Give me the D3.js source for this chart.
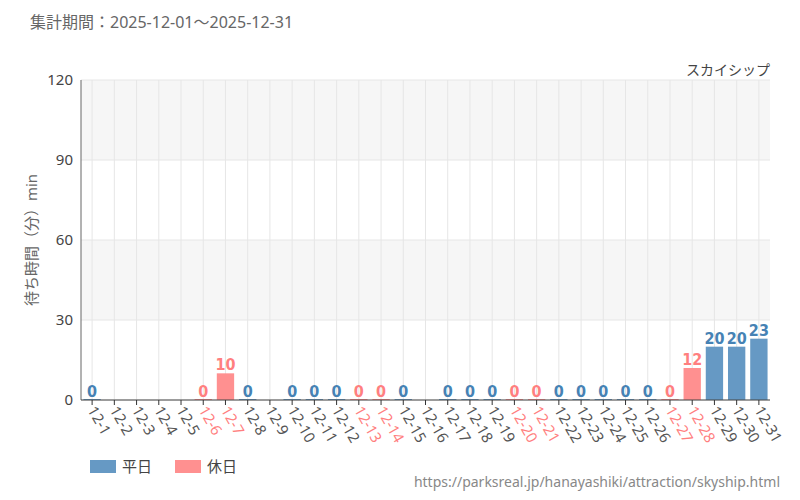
<!DOCTYPE html>
<html><head><meta charset="utf-8">
<script src="https://cdn.jsdelivr.net/npm/d3@7"></script>
<style>body{margin:0;background:#fff}svg{font-family:"Noto Sans","Noto Sans CJK JP",sans-serif}</style>
</head><body><svg id="c" width="800" height="500"></svg>
<script>
const days = d3.range(1, 32).map(d => `12-${d}`)
const values = [0, null, null, null, null, 0, 10, 0, null, 0, 0, 0, 0, 0, 0, null, 0, 0, 0, 0, 0, 0, 0, 0, 0, 0, 0, 12, 20, 20, 23]
const holidays = ['12-6', '12-7', '12-13', '12-14', '12-20', '12-21', '12-27', '12-28']
const yTicks = [0, 30, 60, 90, 120]

const blue = '#6699c4', red = '#ff9090', blueText = '#4682b4', redText = '#ff7f7f'
const svg = d3.select('#c')
const m = { l: 81, r: 770, t: 80, b: 400 }

const x = d3.scaleBand().domain(days).range([m.l, m.r]).paddingInner(0.22).paddingOuter(0.11)
const y = d3.scaleLinear().domain([0, 120]).range([m.b, m.t])

// bands
;[[30, 60], [90, 120]].forEach(([a, b]) => {
  svg.append('rect').attr('x', m.l).attr('width', m.r - m.l)
    .attr('y', y(b)).attr('height', y(a) - y(b)).attr('fill', '#f6f6f6')
})
yTicks.forEach(t => svg.append('line').attr('x1', m.l).attr('x2', m.r)
  .attr('y1', y(t)).attr('y2', y(t)).attr('stroke', '#e6e6e6'))
days.forEach(d => svg.append('line').attr('x1', x(d) + x.bandwidth() / 2).attr('x2', x(d) + x.bandwidth() / 2)
  .attr('y1', m.t).attr('y2', m.b).attr('stroke', '#e6e6e6'))

const data = days.map((d, i) => ({ d, v: values[i], hol: holidays.includes(d) })).filter(o => o.v !== null)

svg.selectAll('.bar').data(data).join('rect')
  .attr('x', o => x(o.d)).attr('width', x.bandwidth())
  .attr('y', o => Math.min(y(o.v), m.b - 1)).attr('height', o => Math.max(m.b - y(o.v), 1))
  .attr('fill', o => o.hol ? red : blue)

svg.selectAll('.val').data(data).join('text')
  .attr('x', o => x(o.d) + x.bandwidth() / 2).attr('y', o => y(o.v) - 3)
  .attr('text-anchor', 'middle').attr('font-family', 'DejaVu Sans Condensed, DejaVu Sans')
  .attr('font-stretch', 'condensed').attr('font-size', 16).attr('font-weight', 'bold')
  .attr('fill', o => o.hol ? redText : blueText).text(o => o.v)

// axes
svg.append('line').attr('x1', m.l).attr('x2', m.l).attr('y1', m.t).attr('y2', m.b).attr('stroke', '#666')
svg.append('line').attr('x1', m.l).attr('x2', m.r).attr('y1', m.b).attr('y2', m.b).attr('stroke', '#444')
yTicks.forEach(t => svg.append('text').attr('x', m.l - 8).attr('y', y(t) + 5)
  .attr('text-anchor', 'end').attr('font-size', 15).attr('fill', '#444').text(t))
days.forEach(d => {
  const cx = x(d) + x.bandwidth() / 2
  svg.append('line').attr('x1', cx).attr('x2', cx).attr('y1', m.b).attr('y2', m.b + 5).attr('stroke', '#333')
  svg.append('text').attr('transform', `translate(${cx - 5},${m.b + 10}) rotate(60)`)
    .attr('font-size', 15).attr('fill', holidays.includes(d) ? redText : '#555').text(d)
})

svg.append('text').attr('transform', `translate(37,${(m.t + m.b) / 2}) rotate(-90)`)
  .attr('text-anchor', 'middle').attr('font-size', 15).attr('fill', '#666').text('待ち時間（分）min')
svg.append('text').attr('x', 30).attr('y', 28).attr('font-size', 16).attr('fill', '#666')
  .text('集計期間：2025-12-01～2025-12-31')
svg.append('text').attr('x', 770).attr('y', 75).attr('text-anchor', 'end').attr('font-size', 14)
  .attr('fill', '#444').text('スカイシップ')

// legend
;[[blue, '平日', 90], [red, '休日', 175]].forEach(([c, t, lx]) => {
  svg.append('rect').attr('x', lx).attr('y', 460).attr('width', 26).attr('height', 13).attr('fill', c)
  svg.append('text').attr('x', lx + 32).attr('y', 472).attr('font-size', 15).attr('fill', '#444').text(t)
})
svg.append('text').attr('x', 780).attr('y', 487).attr('text-anchor', 'end').attr('font-size', 14)
  .attr('fill', '#888').text('https://parksreal.jp/hanayashiki/attraction/skyship.html')
</script></body></html>
